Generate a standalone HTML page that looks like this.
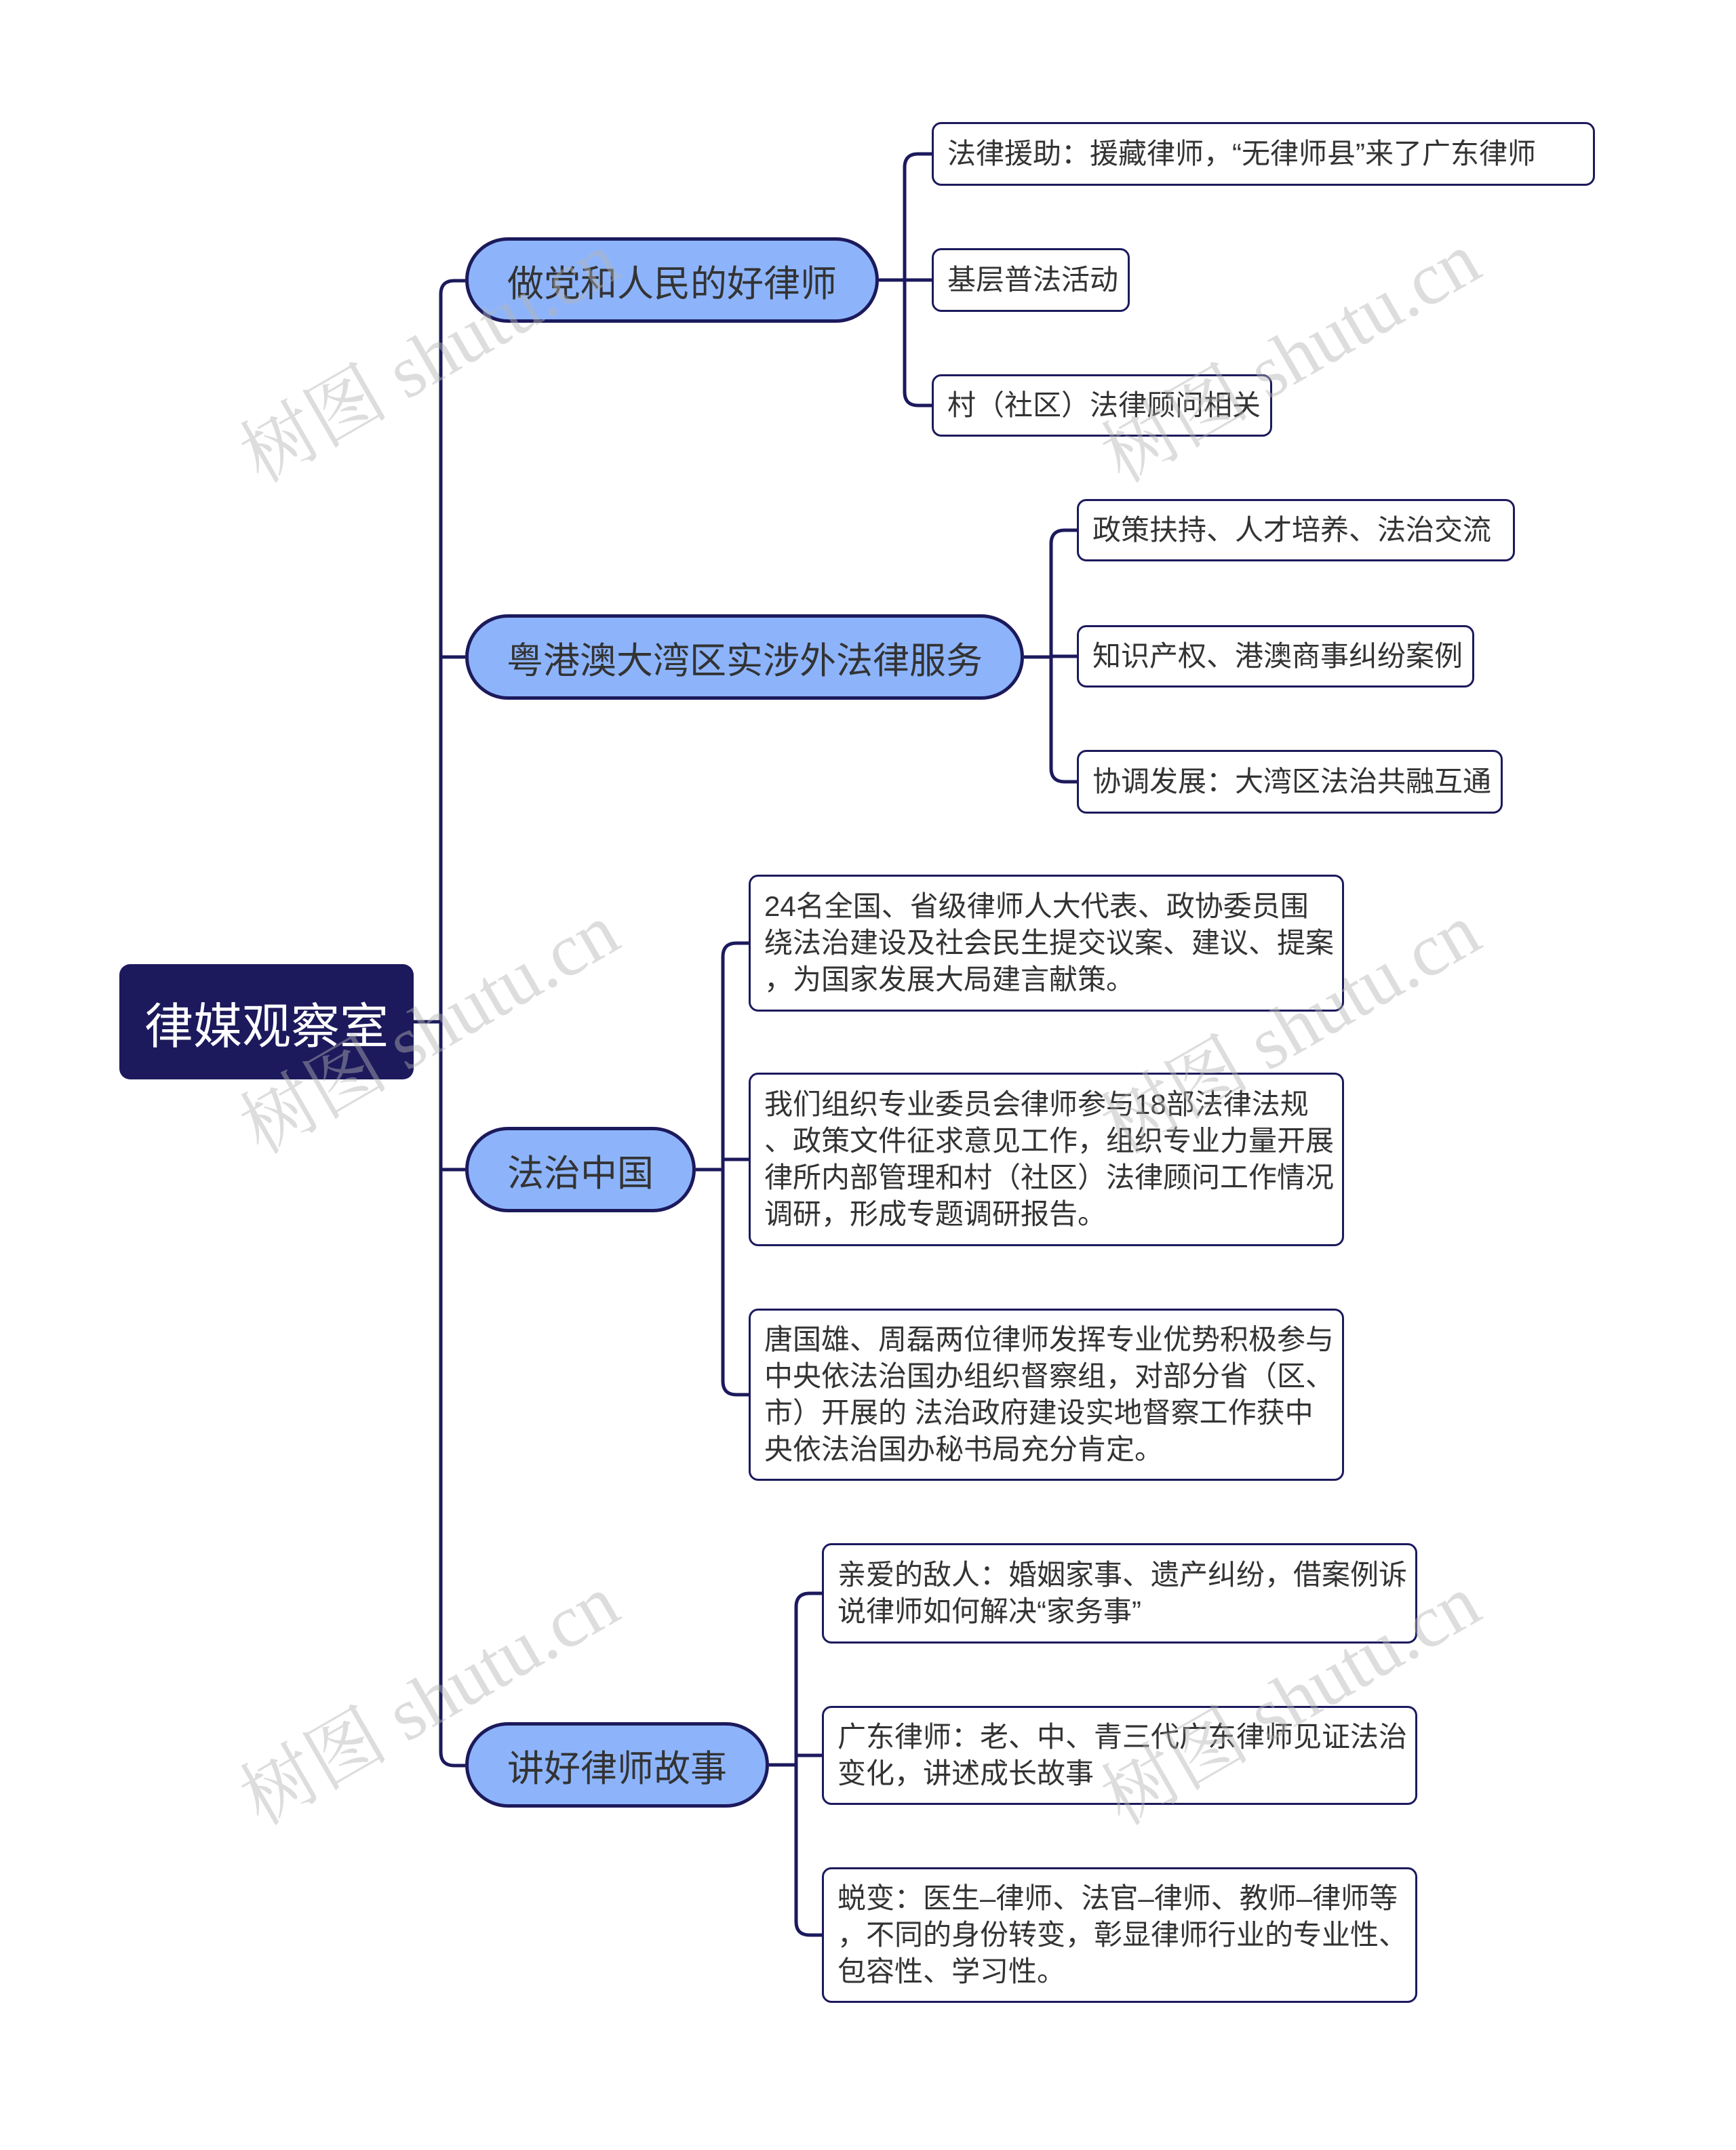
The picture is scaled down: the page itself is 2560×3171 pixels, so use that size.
<!DOCTYPE html>
<html><head><meta charset="utf-8"><style>
body{margin:0;width:2560px;height:3171px;background:#fff;position:relative;overflow:hidden;font-family:"Liberation Sans","Noto Sans CJK SC",sans-serif;}
.n{position:absolute;box-sizing:border-box;}
.root{background:#1c1a5c;color:#fff;border-radius:16px;font-size:72px;display:flex;align-items:center;justify-content:center;}
.br{background:#8db4fb;border:5px solid #1c1a5c;border-radius:70px;color:#333;font-size:54px;display:flex;align-items:center;justify-content:center;}
.lf{background:#fff;border:3px solid #1c1a5c;border-radius:14px;color:#333;font-size:42px;line-height:54px;padding:15px 20px;white-space:nowrap;display:flex;align-items:center;}
.wm{position:absolute;font-family:"Liberation Serif","Noto Serif CJK SC",serif;font-size:110px;color:rgba(180,180,180,0.45);transform:rotate(-30deg);white-space:nowrap;}
</style></head><body>
<svg class="n" style="left:0;top:0" width="2560" height="3171">
<g fill="none" stroke="#1c1a5c" stroke-width="5">
<path d="M610 1507 H650"/>
<path d="M686 414 H670 Q650 414 650 434 V2584 Q650 2604 670 2604 H686"/>
<path d="M650 969 H686 M650 1725 H686"/>
<path d="M1296 413 H1334 M1374 227 H1354 Q1334 227 1334 247 V578 Q1334 598 1354 598 H1374 M1334 413 H1374"/>
<path d="M1510 969 H1550 M1588 782 H1570 Q1550 782 1550 802 V1133 Q1550 1153 1570 1153 H1588 M1550 968 H1588"/>
<path d="M1026 1725 H1066 M1104 1391 H1086 Q1066 1391 1066 1411 V2037 Q1066 2057 1086 2057 H1104 M1066 1710 H1104"/>
<path d="M1134 2603 H1174 M1212 2350 H1194 Q1174 2350 1174 2370 V2834 Q1174 2854 1194 2854 H1212 M1174 2589 H1212"/>
</g></svg>
<div class="n root" style="left:176px;top:1422px;width:434px;height:170px">律媒观察室</div>
<div class="n br" style="left:686px;top:350px;width:610px;height:126px">做党和人民的好律师</div>
<div class="n br" style="left:686px;top:906px;width:824px;height:126px">粤港澳大湾区实涉外法律服务</div>
<div class="n br" style="left:686px;top:1662px;width:340px;height:126px">法治中国</div>
<div class="n br" style="left:686px;top:2540px;width:448px;height:126px">讲好律师故事</div>

<div class="n lf" style="left:1374px;top:180px;width:978px;height:94px">法律援助：援藏律师，“无律师县”来了广东律师</div>
<div class="n lf" style="left:1374px;top:366px;width:292px;height:94px">基层普法活动</div>
<div class="n lf" style="left:1374px;top:552px;width:502px;height:92px">村（社区）法律顾问相关</div>

<div class="n lf" style="left:1588px;top:736px;width:646px;height:92px">政策扶持、人才培养、法治交流</div>
<div class="n lf" style="left:1588px;top:922px;width:586px;height:92px">知识产权、港澳商事纠纷案例</div>
<div class="n lf" style="left:1588px;top:1106px;width:628px;height:94px">协调发展：大湾区法治共融互通</div>

<div class="n lf" style="left:1104px;top:1290px;width:878px;height:202px">24名全国、省级律师人大代表、政协委员围<br>绕法治建设及社会民生提交议案、建议、提案<br>，为国家发展大局建言献策。</div>
<div class="n lf" style="left:1104px;top:1582px;width:878px;height:256px">我们组织专业委员会律师参与18部法律法规<br>、政策文件征求意见工作，组织专业力量开展<br>律所内部管理和村（社区）法律顾问工作情况<br>调研，形成专题调研报告。</div>
<div class="n lf" style="left:1104px;top:1930px;width:878px;height:254px">唐国雄、周磊两位律师发挥专业优势积极参与<br>中央依法治国办组织督察组，对部分省（区、<br>市）开展的 法治政府建设实地督察工作获中<br>央依法治国办秘书局充分肯定。</div>

<div class="n lf" style="left:1212px;top:2276px;width:878px;height:148px">亲爱的敌人：婚姻家事、遗产纠纷，借案例诉<br>说律师如何解决“家务事”</div>
<div class="n lf" style="left:1212px;top:2516px;width:878px;height:146px">广东律师：老、中、青三代广东律师见证法治<br>变化，讲述成长故事</div>
<div class="n lf" style="left:1212px;top:2754px;width:878px;height:200px">蜕变：医生–律师、法官–律师、教师–律师等<br>，不同的身份转变，彰显律师行业的专业性、<br>包容性、学习性。</div>

<div class="wm" style="left:320px;top:440px">树图 shutu.cn</div>
<div class="wm" style="left:1590px;top:440px">树图 shutu.cn</div>
<div class="wm" style="left:320px;top:1430px">树图 shutu.cn</div>
<div class="wm" style="left:1590px;top:1430px">树图 shutu.cn</div>
<div class="wm" style="left:320px;top:2420px">树图 shutu.cn</div>
<div class="wm" style="left:1590px;top:2420px">树图 shutu.cn</div>
</body></html>
